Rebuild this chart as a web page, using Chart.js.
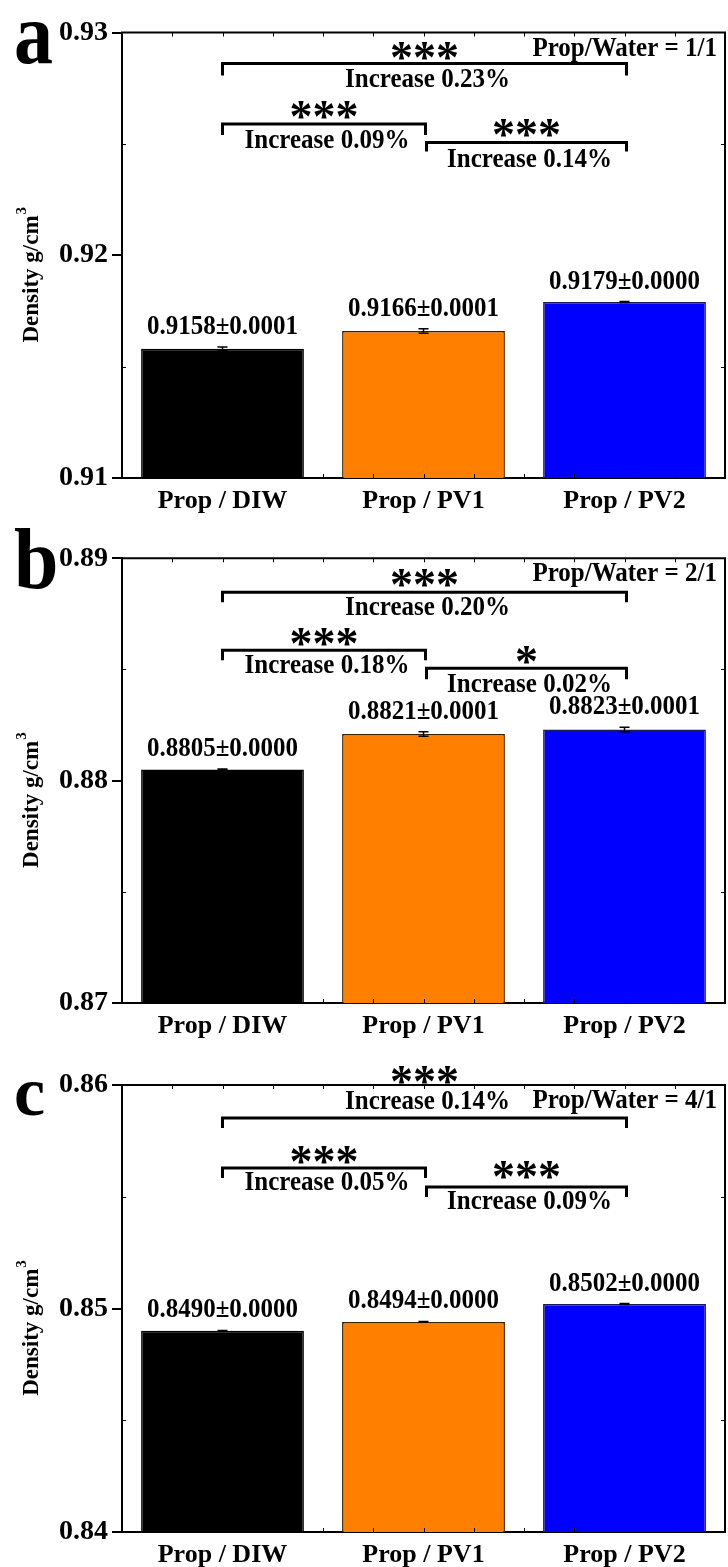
<!DOCTYPE html>
<html>
<head>
<meta charset="utf-8">
<script src="https://cdn.jsdelivr.net/npm/chart.js@4.4.0/dist/chart.umd.min.js"></script>
<style>
  html, body { margin: 0; padding: 0; background: #fff; }
  #figure { position: relative; width: 728px; height: 1567px; }
  .panel { position: absolute; left: 0; width: 728px; }
</style>
</head>
<body>
<div id="figure">
  <div class="panel" style="top:0;height:523px"><canvas id="chartA"></canvas></div>
  <div class="panel" style="top:523px;height:527px"><canvas id="chartB"></canvas></div>
  <div class="panel" style="top:1050px;height:517px"><canvas id="chartC"></canvas></div>
</div>
<script>
const categories = ["Prop / DIW", "Prop / PV1", "Prop / PV2"];
const barColors = ["#000000", "#ff8000", "#0000ff"];
const pairs = [[0, 2], [0, 1], [1, 2]];

// panel a : Prop/Water = 1/1
const densityA = [0.9158, 0.9166, 0.9179];
const errorA = [0.00008, 0.0001, 0.00002];
const valueLabelsA = ["0.9158±0.0001", "0.9166±0.0001", "0.9179±0.0000"];
const ticksA = [0.91, 0.92, 0.93];
const increaseA = ["Increase 0.23%", "Increase 0.09%", "Increase 0.14%"];
const starsA = ["***", "***", "***"];

// panel b : Prop/Water = 2/1
const densityB = [0.8805, 0.8821, 0.8823];
const errorB = [0.00002, 0.0001, 0.0001];
const valueLabelsB = ["0.8805±0.0000", "0.8821±0.0001", "0.8823±0.0001"];
const ticksB = [0.87, 0.88, 0.89];
const increaseB = ["Increase 0.20%", "Increase 0.18%", "Increase 0.02%"];
const starsB = ["***", "***", "*"];

// panel c : Prop/Water = 4/1
const densityC = [0.8490, 0.8494, 0.8502];
const errorC = [0.00002, 0.00002, 0.00002];
const valueLabelsC = ["0.8490±0.0000", "0.8494±0.0000", "0.8502±0.0000"];
const ticksC = [0.84, 0.85, 0.86];
const increaseC = ["Increase 0.14%", "Increase 0.05%", "Increase 0.09%"];
const starsC = ["***", "***", "***"];

const serif = "'Liberation Serif', 'Times New Roman', serif";

// bracket placement, px below the top of the plot area
const panels = {
	chartA: {
		letter: "a", letterSize: 78, letterStretch: 1.15, ratio: "Prop/Water = 1/1",
		values: densityA, errors: errorA, labels: valueLabelsA,
		increase: increaseA, stars: starsA,
		brackets: [
			{ line: 31, tick: 12, stars: 18, text: 54 },
			{ line: 91.5, tick: 11, stars: 77, text: 115.5 },
			{ line: 110, tick: 9, stars: 95, text: 134 },
		],
	},
	chartB: {
		letter: "b", letterSize: 80, letterStretch: 1.08, ratio: "Prop/Water = 2/1",
		values: densityB, errors: errorB, labels: valueLabelsB,
		increase: increaseB, stars: starsB,
		brackets: [
			{ line: 34, tick: 10, stars: 20, text: 57 },
			{ line: 92, tick: 10, stars: 79, text: 115 },
			{ line: 110, tick: 11, stars: 97, text: 134 },
		],
	},
	chartC: {
		letter: "c", letterSize: 70, letterStretch: 1.0, ratio: "Prop/Water = 4/1",
		values: densityC, errors: errorC, labels: valueLabelsC,
		increase: increaseC, stars: starsC,
		brackets: [
			{ line: 33, tick: 10, stars: -10, text: 24 },
			{ line: 83, tick: 10, stars: 70, text: 105 },
			{ line: 102, tick: 10, stars: 85, text: 124 },
		],
	},
};

// text slightly taller than wide, like the original export
function tallText(ctx, text, x, y, size, stretch) {
	ctx.save();
	ctx.translate(x, y);
	ctx.scale(1, stretch);
	ctx.font = `bold ${size}px ${serif}`;
	ctx.fillText(text, 0, 0);
	ctx.restore();
}

const figurePlugin = {
	id: "figure",
	afterDatasetsDraw(chart) {
		const p = panels[chart.canvas.id];
		const ctx = chart.ctx;
		const area = chart.chartArea;
		const yScale = chart.scales.y;
		const meta = chart.getDatasetMeta(0);
		ctx.save();
		ctx.fillStyle = "#000";
		ctx.strokeStyle = "#000";

		// top and right frame
		ctx.lineWidth = 2;
		ctx.beginPath();
		ctx.moveTo(area.left - 1, area.top);
		ctx.lineTo(area.right, area.top);
		ctx.lineTo(area.right, area.bottom + 1);
		ctx.stroke();

		// small inward ticks
		ctx.lineWidth = 1;
		ctx.beginPath();
		const step = (area.right - area.left) / 12;
		for (let i = 1; i < 12; i++) {
			const tx = Math.round(area.left + i * step) + 0.5;
			ctx.moveTo(tx, area.top);
			ctx.lineTo(tx, area.top + 4);
			ctx.moveTo(tx, area.bottom);
			ctx.lineTo(tx, area.bottom - 4);
		}
		const yt = yScale.ticks.map((t) => t.value);
		for (let i = 0; i < yt.length - 1; i++) {
			const ty = Math.round(yScale.getPixelForValue((yt[i] + yt[i + 1]) / 2)) + 0.5;
			ctx.moveTo(area.left, ty);
			ctx.lineTo(area.left + 4, ty);
			ctx.moveTo(area.right, ty);
			ctx.lineTo(area.right - 4, ty);
		}
		ctx.stroke();

		// error bars and value labels
		ctx.textAlign = "center";
		ctx.textBaseline = "alphabetic";
		p.values.forEach((v, i) => {
			const bx = meta.data[i].x;
			const top = yScale.getPixelForValue(v + p.errors[i]);
			const bot = yScale.getPixelForValue(v - p.errors[i]);
			ctx.lineWidth = 1.5;
			ctx.beginPath();
			ctx.moveTo(bx, top);
			ctx.lineTo(bx, bot);
			ctx.moveTo(bx - 5, top);
			ctx.lineTo(bx + 5, top);
			ctx.moveTo(bx - 5, bot);
			ctx.lineTo(bx + 5, bot);
			ctx.stroke();
			tallText(ctx, p.labels[i], bx, Math.min(top, meta.data[i].y) - 13, 25, 1.12);
		});

		// significance brackets
		pairs.forEach(([a, b], k) => {
			const L = p.brackets[k];
			const x1 = meta.data[a].x + (a > 0 ? 3 : 0);
			const x2 = meta.data[b].x + 2;
			const ly = area.top + L.line;
			ctx.lineWidth = 3;
			ctx.beginPath();
			ctx.moveTo(x1, ly + L.tick);
			ctx.lineTo(x1, ly);
			ctx.lineTo(x2, ly);
			ctx.lineTo(x2, ly + L.tick);
			ctx.stroke();
			const cx = (x1 + x2) / 2;
			tallText(ctx, p.stars[k], cx, area.top + L.stars + 22, 46, 1.0);
			tallText(ctx, p.increase[k], cx + 3, area.top + L.text, 25, 1.12);
		});

		// ratio note
		ctx.textAlign = "right";
		tallText(ctx, p.ratio, area.right - 8, area.top + 23, 25, 1.12);

		// panel letter
		ctx.textAlign = "left";
		tallText(ctx, p.letter, 14, area.top + 30, p.letterSize, p.letterStretch);

		// y title with superscript
		ctx.translate(38, (area.top + area.bottom) / 2 + 20);
		ctx.rotate(-Math.PI / 2);
		ctx.font = `bold 23px ${serif}`;
		const main = "Density g/cm";
		const w1 = ctx.measureText(main).width;
		ctx.font = `bold 15px ${serif}`;
		const w2 = ctx.measureText("3").width;
		ctx.font = `bold 23px ${serif}`;
		ctx.fillText(main, -(w1 + w2) / 2, 0);
		ctx.font = `bold 15px ${serif}`;
		ctx.fillText("3", -(w1 + w2) / 2 + w1 + 1, -12);
		ctx.restore();
	},
};

function makeChart(id, values, ticks, topPad, xHeight) {
	const ctx = document.getElementById(id);
	return new Chart(ctx, {
		type: "bar",
		data: {
			labels: categories,
			datasets: [
				{
					data: values,
					backgroundColor: barColors,
					borderColor: ["#000000", "#3a2200", "#1a1a5a"],
					borderWidth: 1.5,
					barPercentage: 0.81,
					categoryPercentage: 1,
				},
			],
		},
		options: {
			responsive: true,
			maintainAspectRatio: false,
			animation: false,
			layout: { padding: { top: topPad, right: 3, left: 0, bottom: 0 } },
			plugins: { legend: { display: false }, tooltip: { enabled: false } },
			scales: {
				x: {
					grid: { display: false },
					border: { display: true, width: 2, color: "#000" },
					ticks: {
						color: "#000",
						padding: 0,
						font: { family: serif, size: 26, weight: "bold" },
					},
					afterFit: (s) => {
						s.height = xHeight;
					},
				},
				y: {
					min: ticks[0],
					max: ticks[ticks.length - 1],
					grid: {
						display: true,
						drawOnChartArea: false,
						drawTicks: true,
						tickLength: 10,
						lineWidth: 2,
						color: "#000",
					},
					border: { display: true, width: 2, color: "#000" },
					ticks: {
						color: "#000",
						padding: 4,
						font: { family: serif, size: 28, weight: "bold" },
						callback: (v) => Number(v).toFixed(2),
					},
					afterBuildTicks: (s) => {
						s.ticks = ticks.map((v) => ({ value: v }));
					},
					afterFit: (s) => {
						s.width = 122;
					},
				},
			},
		},
		plugins: [figurePlugin],
	});
}

makeChart("chartA", densityA, ticksA, 32.5, 45);
makeChart("chartB", densityB, ticksB, 35.3, 47);
makeChart("chartC", densityC, ticksC, 35, 35);
</script>
</body>
</html>
